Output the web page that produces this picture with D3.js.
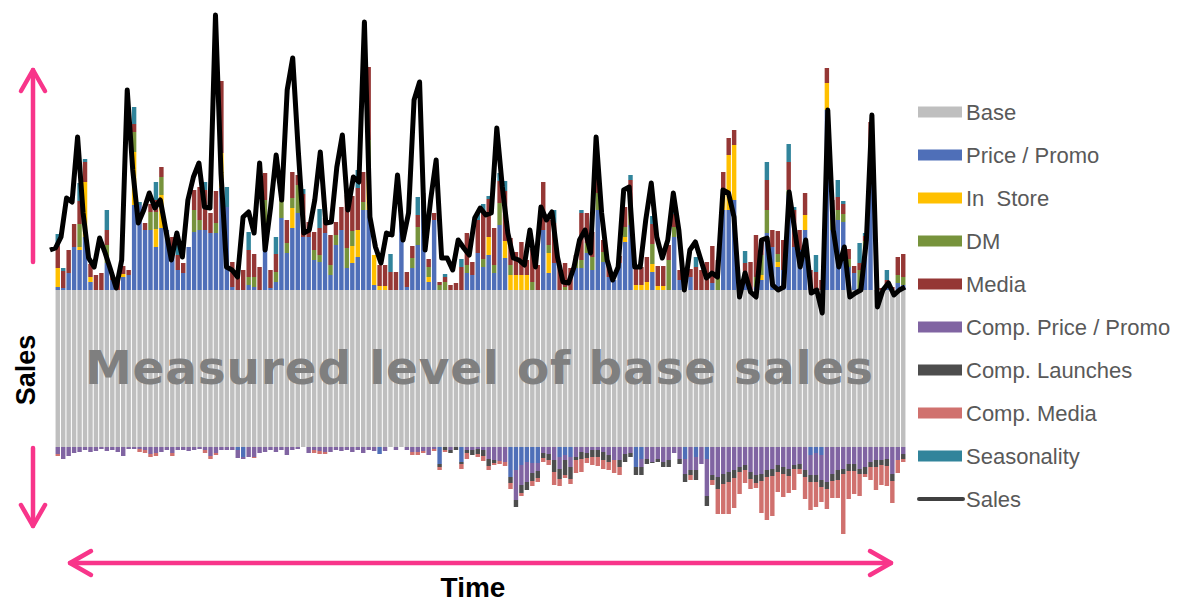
<!DOCTYPE html>
<html>
<head>
<meta charset="utf-8">
<script src="https://cdn.jsdelivr.net/npm/d3@7/dist/d3.min.js"></script>
<style>
  body { margin: 0; background: #fff; }
  svg { display: block; font-family: 'Liberation Sans', Arial, sans-serif; }
</style>
</head>
<body>
<svg id="chart"></svg>
<script>
// weekly sales decomposition, arbitrary units (measured base level = 157)
const weeks = d3.range(1, 157);
const baseLevel = 157;

const pricePromo = [3, 2, 17, 43, 40, 53, 8, 0, 0, 27,
  10, 0, 13, 15, 85, 85, 60, 60, 43, 62,
  60, 43, 20, 17, 43, 58, 60, 60, 57, 57,
  102, 83, 3, -3, -10, 5, 3, 0, 52, 2,
  8, 72, 37, 62, 77, 53, 53, 30, 28, 57,
  15, 45, 60, 22, 27, 33, 80, 80, 5, -7,
  0, 0, 0, 70, 3, 22, 45, 87, 8, 70,
  -17, 0, 0, 0, -15, 17, 15, 37, 23, 35,
  17, 65, 32, -30, -23, -18, -15, -16, -16, 60,
  17, 27, -10, -8, -10, 22, 22, 37, 20, 80,
  28, 13, 10, 27, 48, 65, -20, -12, 0, 18,
  0, 0, 0, 53, 10, -12, 13, -10, 0, -12,
  7, 0, 80, 80, 90, 3, 7, 0, 3, 10,
  57, 43, 23, 20, 95, 43, 40, 60, -8, -6,
  -8, 180, 60, 70, 68, 23, 17, 0, 37, 140,
  0, 0, 3, 0, 7, 5];

const inStore = [19, 0, 0, 0, 3, 55, 5, 0, 0, 0,
  0, 0, 3, 0, 53, 0, 0, 0, 18, 33,
  0, 0, 0, 0, 0, 0, 0, 0, 0, 0,
  35, 0, 0, 0, 0, 0, 0, 0, 10, 0,
  0, 0, 0, 20, 0, 0, 0, 0, 0, 0,
  0, 0, 0, 0, 17, 27, 0, 40, 30, 4,
  4, 0, 0, 0, 0, 0, 0, 0, 5, 0,
  0, 0, 0, 0, 0, 0, 0, 0, 0, 18,
  0, 0, 17, 15, 15, 15, 15, 0, 0, 0,
  20, 0, 0, 0, 0, 0, 0, 0, 0, 0,
  0, 0, 0, 0, 5, 0, 5, 5, 8, 8,
  4, 4, 0, 0, 0, 0, 0, 0, 0, 0,
  0, 0, 15, 55, 55, 0, 0, 0, 0, 5,
  0, 0, 5, 0, 0, 0, 0, 15, 0, 0,
  0, 27, 0, 0, 0, 0, 0, 0, 0, 0,
  0, 0, 0, 0, 0, 0];

const directMail = [0, 0, 0, 0, 23, 0, 0, 0, 0, 18,
  0, 0, 0, 0, 20, 0, 0, 18, 17, 18,
  0, 0, 0, 0, 0, 22, 10, 0, 0, 10,
  0, 0, 0, 0, 0, 8, 10, 0, 28, 0,
  10, 18, 10, 10, 28, 0, 0, 10, 7, 0,
  10, 10, 0, 20, 15, 0, 8, 30, 0, 0,
  0, 0, 0, 0, 0, 10, 18, 0, 10, 0,
  5, 8, 0, 0, 0, 8, 0, 0, 8, 0,
  8, 22, 0, 10, 0, 0, 0, 8, 0, 0,
  8, 0, 0, 3, 0, 8, 8, 10, 13, 17,
  10, 0, 0, 0, 10, 15, 0, 0, 0, 20,
  0, 0, 30, 10, 0, 0, 0, 0, 0, 0,
  0, 15, 0, 0, 0, 0, 7, 0, 10, 20,
  23, 0, 8, 0, 5, 0, 0, 0, 0, 0,
  0, 0, 10, 10, 8, 8, 0, 20, 12, 8,
  0, 0, 0, 0, 8, 8];

const media = [22, 17, 23, 23, 23, 20, 13, 15, 17, 15,
  5, 8, 8, 5, 8, 0, 7, 8, 12, 10,
  0, 10, 15, 10, 0, 20, 33, 40, 20, 32,
  72, 0, 25, 20, 20, 27, 23, 23, 27, 18,
  18, 10, 23, 26, 10, 43, 15, 18, 27, 15,
  30, 13, 23, 53, 35, 42, 30, 73, 0, 21,
  21, 18, 18, 0, 15, 12, 12, 10, 8, 7,
  3, 5, 5, 7, 23, 32, 13, 33, 47, 38,
  37, 22, 50, 27, 23, 33, 15, 33, 25, 48,
  25, 40, 23, 24, 22, 5, 47, 30, 25, 20,
  12, 13, 0, 7, 20, 30, 18, 18, 25, 20,
  20, 20, 15, 13, 10, 0, 8, 23, 20, 28,
  37, 15, 23, 17, 15, 0, 13, 28, 42, 15,
  30, 17, 23, 30, 28, 37, 20, 22, 20, 18,
  10, 15, 20, 13, 10, 10, 7, 7, 5, 20,
  0, 2, 7, 3, 18, 23];

const compPricePromo = [-7, -12, -9, -6, -5, -3, -5, -4, -2, -4,
  -3, -5, -9, -2, -2, -2, -3, -7, -6, -5,
  -3, -6, -3, -3, -4, -3, -2, -3, -9, -6,
  -3, -3, -3, -8, -2, -10, -10, -6, -5, -3,
  -5, -3, -8, -3, -2, 0, -6, -3, -4, -5,
  -5, -3, -4, -3, -5, -3, -6, -3, -4, 0,
  -4, 0, -3, 0, -3, -5, -5, -4, -8, -2,
  0, 0, -3, 0, 0, -3, -3, -2, -3, -12,
  -13, -14, -15, 0, -30, -20, -20, -10, -8, -6,
  -7, -13, -12, -5, -10, -10, -5, -6, -3, -3,
  -5, -8, -13, -13, -7, -6, 0, -8, -12, -15,
  -12, -15, -13, -6, -12, -15, -23, -13, -17, -37,
  -28, -30, -27, -25, -23, -20, -18, -25, -28, -27,
  -23, -22, -18, -20, -22, -18, -17, -23, -20, -22,
  -25, -35, -27, -23, -22, -17, -17, -22, -20, -15,
  -13, -13, -12, -27, -13, -7];

const compLaunches = [0, 0, 0, 0, 0, 0, 0, 0, 0, 0,
  0, 0, 0, 0, 0, 0, 0, 0, 0, 0,
  0, 0, 0, 0, 0, 0, 0, 0, 0, 0,
  0, 0, 0, 0, 0, 0, 0, 0, 0, 0,
  0, 0, 0, 0, 0, 0, 0, 0, 0, 0,
  0, 0, 0, 0, 0, 0, 0, 0, 0, 0,
  0, 0, 0, 0, 0, 0, 0, 0, 0, 0,
  -3, -3, -3, -3, -2, -3, -5, -5, -6, -7,
  -3, 0, 0, -6, -7, -8, -8, -8, -7, -5,
  -6, -12, -10, -15, -12, -3, -7, -5, -7, -7,
  -8, -7, 0, -7, -8, -4, -8, -8, -5, -1,
  -3, -5, -7, 0, -5, -8, -5, -10, 0, -10,
  -5, -12, -10, -10, -8, -5, -5, -7, -8, -7,
  -7, -7, -7, -7, -7, -4, -5, -7, -7, -7,
  -7, -7, -7, -10, -5, -7, -7, -5, -7, -5,
  -7, -5, -7, -7, 0, -5];

const compMedia = [-2, 0, 0, 0, 0, 0, 0, 0, 0, 0,
  0, 0, 0, 0, 0, -3, -3, -3, -3, 0,
  0, -3, 0, 0, 0, 0, 0, -3, -3, -2,
  0, 0, 0, 0, 0, 0, -1, 0, 0, 0,
  0, 0, 0, 0, 0, 0, 0, -3, -3, -2,
  0, 0, 0, 0, 0, 0, 0, 0, 0, 0,
  0, 0, 0, 0, 0, -3, -3, -2, 0, -2,
  -3, -2, 0, 0, -5, -6, 0, -3, -5, -4,
  -2, -3, -4, -6, 0, -3, 0, -5, -4, -4,
  -5, -13, -7, -3, -5, -13, -13, -5, -8, -9,
  -9, -8, -13, -8, 0, 0, 0, 0, 0, 0,
  0, 0, 0, 0, 0, 0, -5, 0, 0, 0,
  -5, -25, -30, -32, -30, -22, -13, -10, -5, -32,
  -43, -40, -20, -23, -17, -21, -5, -22, -28, -25,
  -15, -20, -17, -18, -60, -28, -23, -22, -3, -13,
  -23, -20, -20, -22, -13, -3];

const seasonality = [12, 3, 0, 0, 18, 3, 0, 0, 0, 20,
  0, 0, 0, 0, 17, 3, 0, 0, 18, 0,
  0, 0, 12, 0, 0, 0, 0, 8, 0, 0,
  0, 20, 0, 0, 0, 18, 0, 0, 0, 0,
  17, 0, 0, 0, 0, 5, 0, 0, 19, 0,
  0, 0, 0, 0, 0, 18, 0, 0, 0, 0,
  0, 18, 0, 0, 0, 0, 18, 0, 0, 0,
  0, 3, 0, 0, 8, 0, 0, 7, 8, 3,
  0, 8, 10, 0, 0, 0, 0, 0, 0, 0,
  0, 13, 0, 0, 0, 0, 3, 0, 0, 5,
  0, 0, 0, 0, 0, 5, 0, 0, 0, 8,
  0, 0, 0, 5, 0, 0, 0, 10, 0, 0,
  0, 0, 0, 0, 0, 0, 12, 0, 0, 0,
  18, 0, 0, 0, 18, 3, 0, 0, 0, 17,
  0, 0, 0, 17, 3, 0, 0, 20, 3, 0,
  0, 0, 10, 0, 0, 0];

const sales = [197, 199, 210, 249, 245, 310, 234, 189, 180, 209,
  194, 177, 159, 187, 357, 277, 224, 237, 254, 239,
  247, 217, 187, 214, 190, 247, 270, 284, 240, 239,
  432, 274, 180, 177, 170, 230, 235, 214, 284, 197,
  240, 292, 247, 357, 389, 297, 214, 217, 247, 295,
  224, 225, 280, 312, 237, 270, 265, 425, 230, 200,
  184, 214, 212, 272, 207, 234, 347, 365, 197, 247,
  287, 189, 189, 177, 207, 199, 192, 229, 239, 232,
  234, 319, 260, 214, 189, 187, 182, 217, 180, 240,
  227, 235, 190, 165, 164, 180, 207, 217, 194, 310,
  234, 187, 167, 180, 257, 260, 180, 180, 227, 264,
  210, 189, 207, 254, 217, 157, 197, 205, 187, 169,
  174, 170, 257, 254, 230, 150, 174, 155, 150, 207,
  209, 162, 157, 160, 255, 217, 180, 207, 154, 157,
  134, 337, 217, 180, 200, 150, 154, 157, 207, 332,
  140, 157, 164, 152, 157, 160];

const seriesKeys = ['base', 'pricePromo', 'inStore', 'dm', 'media', 'compPrice', 'compLaunch', 'compMedia', 'season'];
const seriesLabels = ['Base', 'Price / Promo', 'In  Store', 'DM', 'Media', 'Comp. Price / Promo', 'Comp. Launches', 'Comp. Media', 'Seasonality'];
const seriesColors = ['#BFBFBF', '#4F6FB8', '#FFC000', '#77933C', '#953735', '#8064A2', '#4D4D4D', '#D0716E', '#31849B'];


class DecompChart {

  constructor(_config, _data, _sales) {
    this.config = {
      parentElement: _config.parentElement,
      containerWidth: _config.containerWidth || 1184,
      containerHeight: _config.containerHeight || 602
    }
    this.data = _data;
    this.sales = _sales;
    this.initVis();
  }

  initVis() {
    let vis = this;

    vis.svg = d3.select(vis.config.parentElement)
        .attr('width', vis.config.containerWidth)
        .attr('height', vis.config.containerHeight);

    vis.xScale = d3.scaleBand()
        .domain(weeks)
        .range([55, 906])
        .paddingInner(0.19)
        .paddingOuter(0.1);

    // sales line sits on its own axis in the original, slightly wider than the bars
    vis.lineX = d3.scaleLinear()
        .domain([weeks[0], weeks[weeks.length - 1]])
        .range([50, 905]);

    vis.yScale = d3.scaleLinear()
        .domain([-95, 437])
        .range([542, 10]);

    vis.colour = d3.scaleOrdinal()
        .domain(seriesKeys)
        .range(seriesColors);

    vis.marks = vis.svg.append('g');
    vis.overlay = vis.svg.append('g');

    // pink axis arrows (decoration, no ticks in the original)
    const pink = '#F8358A';
    const arrow = (g, pts) => g.append('path')
        .attr('d', d3.line()(pts))
        .attr('fill', 'none')
        .attr('stroke', pink)
        .attr('stroke-width', 4.5)
        .attr('stroke-linecap', 'round')
        .attr('stroke-linejoin', 'round');

    let deco = vis.svg.append('g');
    arrow(deco, [[33, 70], [33, 262]]);
    arrow(deco, [[21, 91], [33, 70], [45, 91]]);
    arrow(deco, [[33, 448], [33, 526]]);
    arrow(deco, [[21, 505], [33, 526], [45, 505]]);
    arrow(deco, [[70, 563], [891, 563]]);
    arrow(deco, [[91, 551], [70, 563], [91, 575]]);
    arrow(deco, [[870, 551], [891, 563], [870, 575]]);

    deco.append('text')
        .attr('transform', 'translate(35,370) rotate(-90)')
        .attr('text-anchor', 'middle')
        .attr('font-size', '27px')
        .attr('font-weight', 'bold')
        .attr('fill', '#000')
        .text('Sales');

    deco.append('text')
        .attr('x', 473)
        .attr('y', 597)
        .attr('text-anchor', 'middle')
        .attr('font-size', '28px')
        .attr('font-weight', 'bold')
        .attr('fill', '#000')
        .text('Time');

    vis.legend = vis.svg.append('g')
        .attr('transform', 'translate(918,112)');
  }

  updateVis() {
    let vis = this;

    vis.stack = d3.stack()
        .keys(seriesKeys)
        .offset(d3.stackOffsetDiverging);
    vis.stacked = vis.stack(vis.data);

    vis.line = d3.line()
        .x((d, i) => vis.lineX(weeks[i]))
        .y(d => vis.yScale(d));

    vis.renderVis();
  }

  renderVis() {
    let vis = this;

    const layers = vis.marks.selectAll('.layer')
        .data(vis.stacked)
        .join('g')
        .attr('class', 'layer')
        .attr('fill', d => vis.colour(d.key));

    layers.selectAll('rect')
        .data(d => d.filter(s => s[1] !== s[0]))
        .join('rect')
        .attr('x', d => vis.xScale(d.data.week))
        .attr('y', d => vis.yScale(Math.max(d[0], d[1])))
        .attr('width', vis.xScale.bandwidth())
        .attr('height', d => Math.abs(vis.yScale(d[0]) - vis.yScale(d[1])));

    // label inside the base block
    vis.overlay.append('text')
        .attr('x', 85)
        .attr('y', vis.yScale(baseLevel * 0.4))
        .attr('textLength', 788)
        .attr('lengthAdjust', 'spacing')
        .attr('font-family', "'DejaVu Sans', Verdana, sans-serif")
        .attr('font-size', '47px')
        .attr('font-weight', 'bold')
        .attr('fill', '#7F7F7F')
        .text('Measured level of base sales');

    vis.overlay.append('path')
        .datum(vis.sales)
        .attr('d', vis.line)
        .attr('fill', 'none')
        .attr('stroke', '#000')
        .attr('stroke-width', 5)
        .attr('stroke-linejoin', 'round');

    // legend
    const items = seriesLabels.map((l, i) => ({label: l, color: seriesColors[i], line: false}))
        .concat([{label: 'Sales', color: '#404040', line: true}]);

    const row = vis.legend.selectAll('.row')
        .data(items)
        .join('g')
        .attr('class', 'row')
        .attr('transform', (d, i) => `translate(0,${i * 43})`);

    row.filter(d => !d.line).append('rect')
        .attr('x', 0)
        .attr('y', -5.5)
        .attr('width', 44)
        .attr('height', 11)
        .attr('fill', d => d.color);

    row.filter(d => d.line).append('line')
        .attr('x1', 1)
        .attr('x2', 45)
        .attr('stroke', d => d.color)
        .attr('stroke-width', 4)
        .attr('stroke-linecap', 'round');

    row.append('text')
        .attr('x', 48)
        .attr('dy', '0.35em')
        .attr('font-size', '22px')
        .attr('fill', '#595959')
        .style('white-space', 'pre')
        .text(d => d.label);
  }
}

const rows = weeks.map((w, i) => ({
  week: w,
  base: baseLevel,
  pricePromo: pricePromo[i],
  inStore: inStore[i],
  dm: directMail[i],
  media: media[i],
  compPrice: compPricePromo[i],
  compLaunch: compLaunches[i],
  compMedia: compMedia[i],
  season: seasonality[i]
}));

const chart = new DecompChart({parentElement: '#chart'}, rows, sales);
chart.updateVis();
</script>
</body>
</html>
